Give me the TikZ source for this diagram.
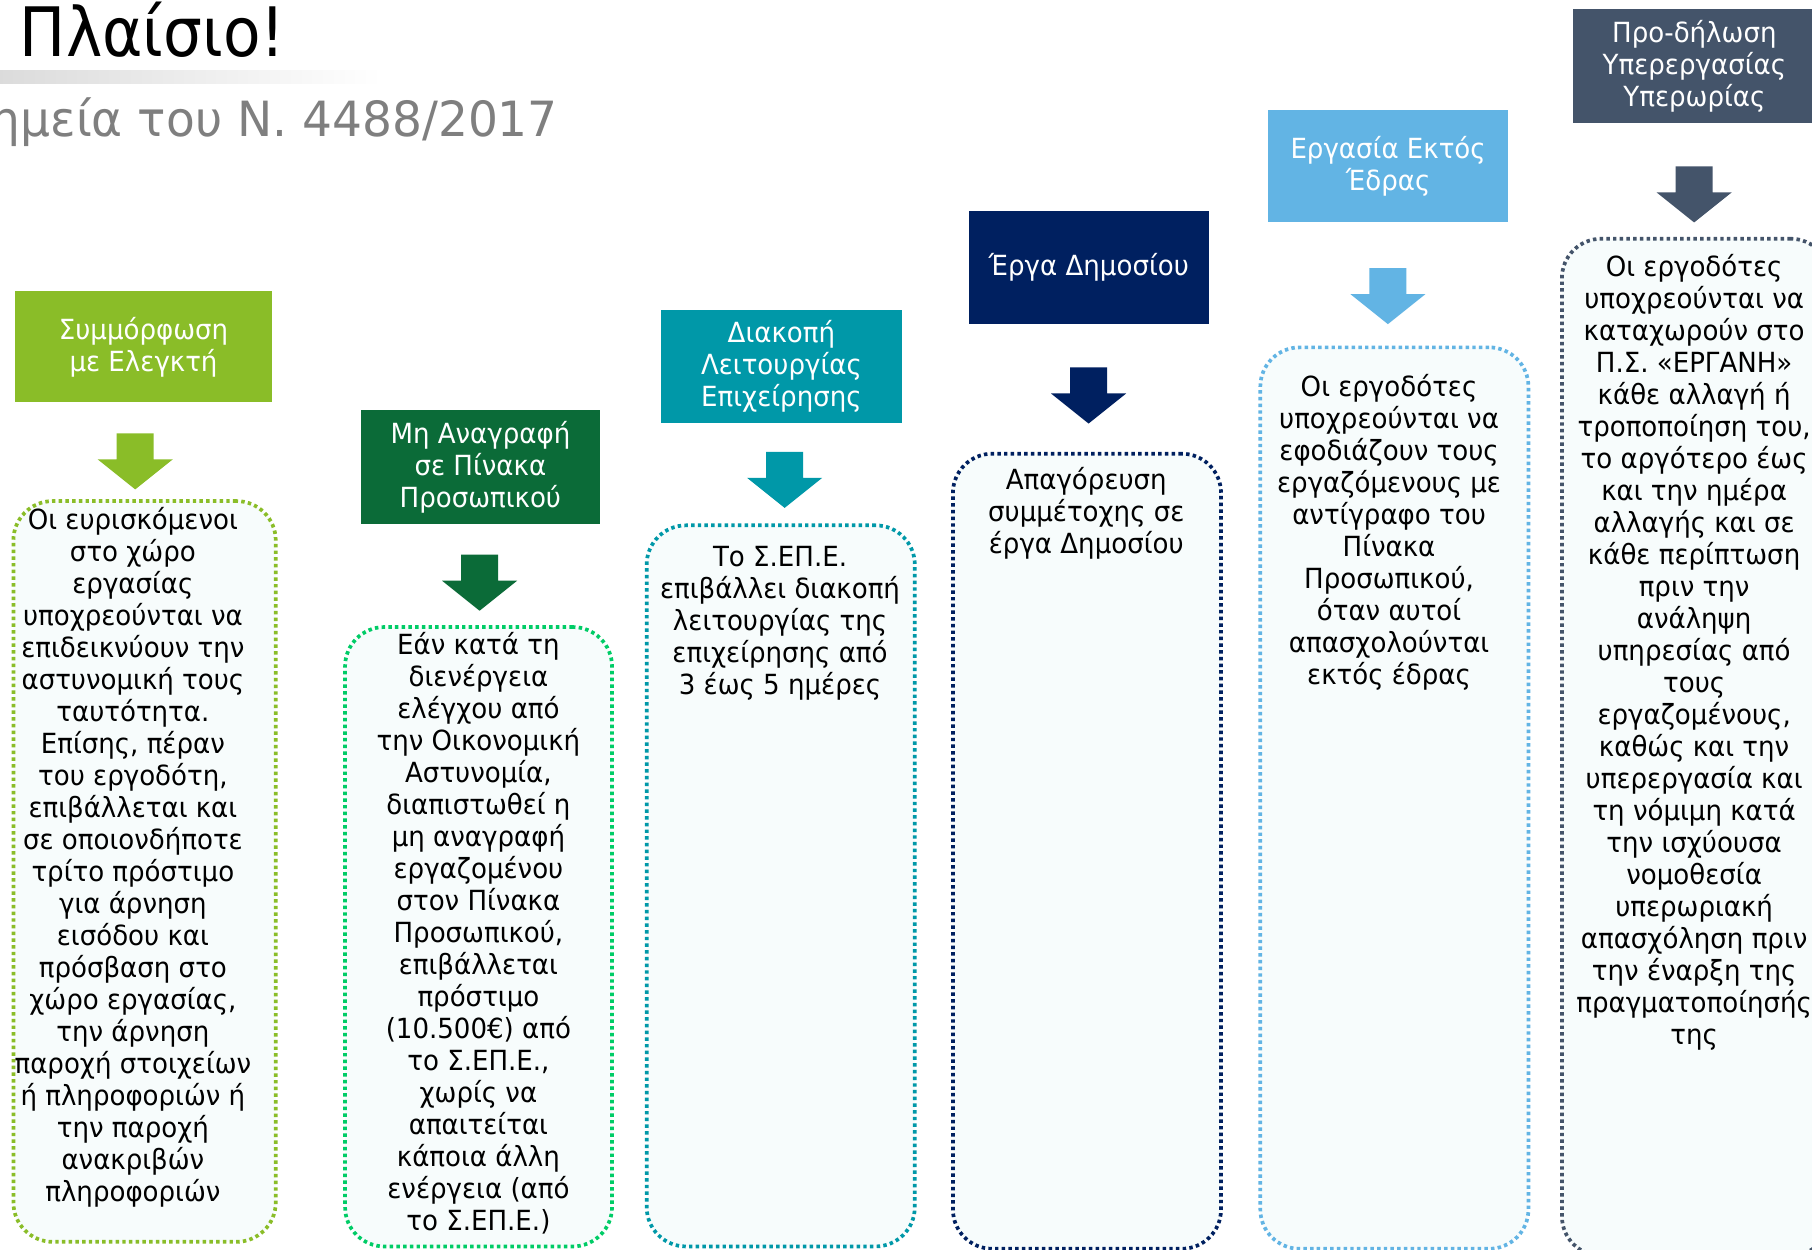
\documentclass[tikz,border=0pt]{standalone}
\usepackage{fontspec}
\setmainfont{DejaVu Sans}[FakeStretch=0.94]
\newfontfamily\titlefont{DejaVu Sans}[FakeStretch=0.9]
\newfontfamily\subfont{DejaVu Sans}[FakeStretch=0.97]
\usetikzlibrary{calc}
\definecolor{cA}{HTML}{8ABD28}
\definecolor{cBh}{HTML}{0B6B38}
\definecolor{cBb}{HTML}{00CC66}
\definecolor{cC}{HTML}{0098A8}
\definecolor{cD}{HTML}{002060}
\definecolor{cE}{HTML}{62B4E4}
\definecolor{cF}{HTML}{44546A}
\definecolor{boxfill}{HTML}{F7FCFC}
\definecolor{subgray}{HTML}{7F7F7F}
\newcommand\bodyfont{\fontsize{24pt}{27.7pt}\selectfont}
\newcommand\firstln{\rule{0pt}{24pt}}
\tikzset{
  hdr/.style={fill=#1, text=white, inner sep=0pt, align=center, font=\bodyfont, anchor=north west},
  dbox/.style={draw=#1, fill=boxfill, line width=3.2pt, dash pattern=on 3pt off 2.8pt,
     rounded corners=34pt, anchor=north west, inner sep=0pt},
  btext/.style={align=center, font=\bodyfont, anchor=north, inner sep=0pt, text=black},
  pics/barrow/.style={code={\fill[#1] (-16,0) -- (16,0) -- (16,22.5) -- (32.5,22.5) -- (0,48.5) -- (-32.5,22.5) -- (-16,22.5) -- cycle;}}
}
\begin{document}
\begin{tikzpicture}[x=1pt,y=-1pt]
\useasboundingbox (0,0) rectangle (1568,1081);
\fill[white] (0,0) rectangle (1568,1081);
% title area
\shade[left color=black!14, right color=white] (0,61) rectangle (330,72);
\node[anchor=base west, inner sep=0pt, font=\titlefont\fontsize{59pt}{62pt}\selectfont] (title) at (17,49) {Πλαίσιο!};
\node[anchor=base east, inner sep=0pt, text=subgray, font=\subfont\fontsize{42pt}{46pt}\selectfont] (sub) at (483,118) {ημεία του Ν. 4488/2017};
% dotted boxes
\node[dbox=cA,  minimum width=227, minimum height=641] (b1) at (10,432) {};
\node[dbox=cBb, minimum width=231, minimum height=536] (b2) at (297,541) {};
\node[dbox=cC,  minimum width=232, minimum height=624] (b3) at (558,453) {};
\node[dbox=cD,  minimum width=232, minimum height=688] (b4) at (823,391) {};
\node[dbox=cE,  minimum width=232, minimum height=780] (b5) at (1089,299) {};
\node[dbox=cF,  minimum width=232, minimum height=880] (b6) at (1350,205) {};
% headers
\node[hdr=cA,  minimum width=222, minimum height=96] (h1) at (13,252) {Συμμόρφωση\\με Ελεγκτή};
\node[hdr=cBh, minimum width=207, minimum height=98] (h2) at (312,355) {Μη Αναγραφή\\σε Πίνακα\\Προσωπικού};
\node[hdr=cC,  minimum width=208, minimum height=98] (h3) at (572,268) {Διακοπή\\Λειτουργίας\\Επιχείρησης};
\node[hdr=cD,  minimum width=208, minimum height=98] (h4) at (838,182) {Έργα Δημοσίου};
\node[hdr=cE,  minimum width=208, minimum height=97] (h5) at (1097,95) {Εργασία Εκτός\\Έδρας};
\node[hdr=cF,  minimum width=210, minimum height=98] (h6) at (1361,8) {Προ-δήλωση\\Υπερεργασίας\\Υπερωρίας};
% block arrows
\pic at (117,375) {barrow=cA};
\pic at (415,480) {barrow=cBh};
\pic at (679,391) {barrow=cC};
\pic at (942,318) {barrow=cD};
\pic at (1201,232) {barrow=cE};
\pic at (1466,144) {barrow=cF};
% texts
\node[btext] (t1) at (115,434) {\firstln Οι ευρισκόμενοι\\στο χώρο\\εργασίας\\υποχρεούνται να\\επιδεικνύουν την\\αστυνομική τους\\ταυτότητα.\\Επίσης, πέραν\\του εργοδότη,\\επιβάλλεται και\\σε οποιονδήποτε\\τρίτο πρόστιμο\\για άρνηση\\εισόδου και\\πρόσβαση στο\\χώρο εργασίας,\\την άρνηση\\παροχή στοιχείων\\ή πληροφοριών ή\\την παροχή\\ανακριβών\\πληροφοριών};
\node[btext] (t2) at (414,542) {\firstln Εάν κατά τη\\διενέργεια\\ελέγχου από\\την Οικονομική\\Αστυνομία,\\διαπιστωθεί η\\μη αναγραφή\\εργαζομένου\\στον Πίνακα\\Προσωπικού,\\επιβάλλεται\\πρόστιμο\\(10.500€) από\\το Σ.ΕΠ.Ε.,\\χωρίς να\\απαιτείται\\κάποια άλλη\\ενέργεια (από\\το Σ.ΕΠ.Ε.)};
\node[btext] (t3) at (675,466) {\firstln Το Σ.ΕΠ.Ε.\\επιβάλλει διακοπή\\λειτουργίας της\\επιχείρησης από\\3 έως 5 ημέρες};
\node[btext] (t4) at (940,399) {\firstln Απαγόρευση\\συμμέτοχης σε\\έργα Δημοσίου};
\node[btext] (t5) at (1202,319) {\firstln Οι εργοδότες\\υποχρεούνται να\\εφοδιάζουν τους\\εργαζόμενους με\\αντίγραφο του\\Πίνακα\\Προσωπικού,\\όταν αυτοί\\απασχολούνται\\εκτός έδρας};
\node[btext] (t6) at (1466,215) {\firstln Οι εργοδότες\\υποχρεούνται να\\καταχωρούν στο\\Π.Σ. «ΕΡΓΑΝΗ»\\κάθε αλλαγή ή\\τροποποίηση του,\\το αργότερο έως\\και την ημέρα\\αλλαγής και σε\\κάθε περίπτωση\\πριν την\\ανάληψη\\υπηρεσίας από\\τους\\εργαζομένους,\\καθώς και την\\υπερεργασία και\\τη νόμιμη κατά\\την ισχύουσα\\νομοθεσία\\υπερωριακή\\απασχόληση πριν\\την έναρξη της\\πραγματοποίησής\\της};
\end{tikzpicture}
\end{document}
